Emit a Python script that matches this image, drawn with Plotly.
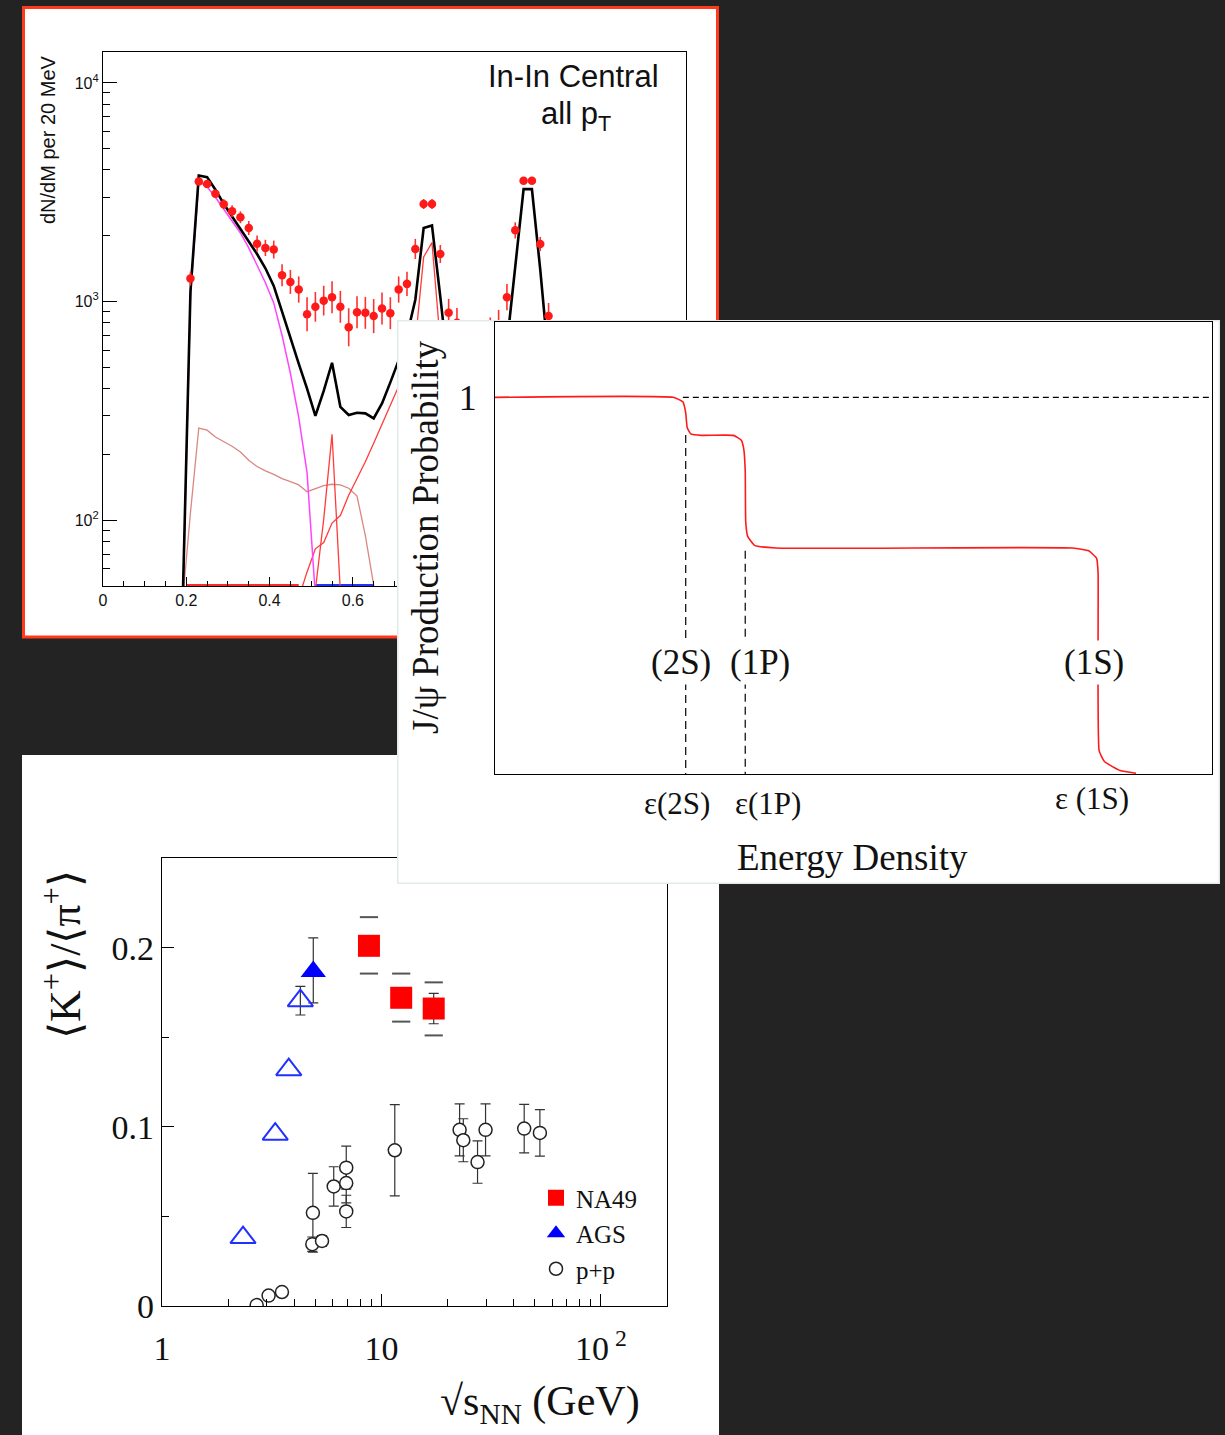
import numpy as np
import plotly.graph_objects as go

W, H = 1225, 1435
SANS = "Liberation Sans, Arial, sans-serif"
SERIF = "Liberation Serif, Times New Roman, serif"


def px(x):
    return x / W


def py(y):
    return 1 - y / H


# ---------------- Panel A : In-In central dimuon mass spectrum ----------------
mass_data = [0.21, 0.23, 0.25, 0.27, 0.29, 0.31, 0.33, 0.35, 0.37, 0.39, 0.41, 0.43, 0.45,
             0.47, 0.49, 0.51, 0.53, 0.55, 0.57, 0.59, 0.61, 0.63, 0.65, 0.67, 0.69, 0.71,
             0.73, 0.75, 0.77, 0.79, 0.81, 0.83, 0.85, 0.87, 0.89, 0.91, 0.93, 0.95, 0.97,
             0.99, 1.01, 1.03, 1.05, 1.07, 1.09, 1.11]
counts_data = [1274, 3540, 3450, 3110, 2790, 2590, 2430, 2170, 1840, 1760, 1730, 1320, 1230,
               1135, 875, 946, 1010, 1047, 946, 763, 894, 888, 858, 929, 885, 1135,
               1205, 1741, 2794, 2794, 1651, 888, 800, 700, 680, 700, 720, 780, 1047,
               2117, 3568, 3568, 1834, 858, 600, 520]
err_dex = [0.032, 0.014, 0.014, 0.018, 0.023, 0.027, 0.027, 0.032, 0.037, 0.037, 0.041, 0.050,
           0.055, 0.060, 0.078, 0.068, 0.068, 0.073, 0.073, 0.087, 0.073, 0.073, 0.078, 0.073,
           0.073, 0.060, 0.055, 0.046, 0.023, 0.023, 0.041, 0.064, 0.068, 0.07, 0.07, 0.07,
           0.07, 0.07, 0.060, 0.037, 0.014, 0.014, 0.032, 0.060, 0.07, 0.07]

mass_sum = [0.19, 0.21, 0.23, 0.25, 0.27, 0.29, 0.31, 0.33, 0.35, 0.37, 0.39, 0.41, 0.43, 0.45,
            0.47, 0.49, 0.51, 0.53, 0.55, 0.57, 0.59, 0.61, 0.63, 0.65, 0.67, 0.69, 0.71, 0.73,
            0.75, 0.77, 0.79, 0.81, 0.83, 0.85, 0.87, 0.89, 0.91, 0.93, 0.95, 0.97, 0.99, 1.01,
            1.03, 1.05, 1.07, 1.09, 1.11, 1.13]
cocktail_sum = [33, 1110, 3770, 3710, 3250, 2800, 2450, 2150, 1870, 1650, 1420, 1180, 900, 680,
                520, 400, 300, 390, 525, 330, 303, 310, 308, 292, 342, 427, 538, 700,
                1020, 2170, 2230, 1050, 480, 400, 380, 380, 390, 420, 480, 640, 1400, 3270,
                3270, 1400, 540, 300, 250, 220]

mass_eta_dalitz = [0.19, 0.21, 0.23, 0.25, 0.27, 0.29, 0.31, 0.33, 0.35, 0.37, 0.39, 0.41, 0.43,
                   0.45, 0.47, 0.49, 0.51]
eta_dalitz = [30, 1050, 3550, 3350, 3000, 2650, 2330, 2060, 1760, 1475, 1220, 986, 700,
              470, 295, 165, 45]

mass_omega_dalitz = [0.19, 0.21, 0.23, 0.25, 0.27, 0.29, 0.31, 0.33, 0.35, 0.37, 0.39, 0.41,
                     0.43, 0.45, 0.47, 0.49, 0.51, 0.53, 0.55, 0.57, 0.59, 0.61, 0.63, 0.65, 0.67]
omega_dalitz = [40, 108, 264, 258, 240, 228, 218, 205, 188, 176, 168, 162, 155, 150, 145, 135,
                140, 144, 146, 145, 140, 129, 85, 52, 30]

mass_eta_mumu = [0.51, 0.53, 0.55, 0.57]
eta_mumu = [48, 101, 247, 47]

mass_rho = [0.47, 0.49, 0.51, 0.53, 0.55, 0.57, 0.59, 0.61, 0.63, 0.65, 0.67, 0.69, 0.71, 0.73,
            0.75, 0.77, 0.79, 0.81, 0.83, 0.85]
rho = [44, 58, 74, 79, 97, 105, 130, 155, 185, 225, 275, 335, 410, 480, 560, 600, 580, 520,
       450, 400]

mass_omega_mumu = [0.73, 0.75, 0.77, 0.79, 0.81, 0.83]
omega_mumu = [80, 650, 1600, 1860, 650, 60]

mass_floor_red = [0.20, 0.47]
mass_floor_blue = [0.51, 0.65]
floor_level = [50.5, 50.5]

# ---------------- Panel B : J/psi sequential suppression ----------------
energy_density = [0.0, 0.2486, 0.262, 0.266, 0.268, 0.273, 0.288, 0.3326, 0.3436, 0.347, 0.349,
                  0.3497, 0.3524, 0.362, 0.3915, 0.8057, 0.828, 0.839, 0.8411, 0.8426, 0.850,
                  0.872, 0.894]
production_prob = [1.0, 1.0, 0.988, 0.959, 0.920, 0.903, 0.899, 0.899, 0.886, 0.862, 0.804,
                   0.669, 0.631, 0.607, 0.600, 0.600, 0.5925, 0.573, 0.535, 0.062, 0.033,
                   0.009, 0.002]
eps_2S, eps_1P, eps_1S = 0.266, 0.349, 0.843
level_2S, level_1P = 0.9, 0.593
unity_start = 0.262

# ---------------- Panel C : K+/pi+ excitation function ----------------
na49_s = [8.77, 12.3, 17.3]
na49_ratio = [0.201, 0.172, 0.166]
na49_stat = [0.004, 0.004, 0.0085]
na49_sys_hi = [0.217, 0.1855, 0.1806]
na49_sys_lo = [0.1855, 0.1587, 0.151]

ags_s = [4.89]
ags_ratio = [0.1867]
ags_err_hi = [0.0187]
ags_err_lo = [0.0175]

ags_open_s = [2.34, 3.28, 3.78, 4.27]
ags_open_ratio = [0.0382, 0.0959, 0.1319, 0.1704]
ags_open_err = [None, None, None, 0.008]

pp_s = [2.70, 3.06, 3.52, 4.84, 5.36, 4.87, 6.06, 6.91, 6.91, 6.91, 11.5, 22.7, 23.6, 27.4,
        29.8, 44.7, 52.7]
pp_ratio = [0.0005, 0.0058, 0.0078, 0.0345, 0.0363, 0.052, 0.0667, 0.0772, 0.0686, 0.0528,
            0.0869, 0.0983, 0.0925, 0.0803, 0.0983, 0.099, 0.0966]
pp_err = [None, None, None, 0.004, 0.003, 0.022, 0.011, 0.012, 0.011, 0.009, 0.0255, 0.0145,
          0.012, 0.0118, 0.0145, 0.0135, 0.013]

fig = go.Figure()

# ---- Panel A traces (xy) ----
cd = np.array(counts_data, dtype=float)
ed = np.array(err_dex)
err_plus = cd * (10 ** ed - 1)
err_minus = cd * (1 - 10 ** (-ed))

fig.add_trace(go.Scatter(x=mass_floor_red, y=floor_level, mode="lines",
                         line=dict(color="#ff2a2a", width=2), xaxis="x", yaxis="y", showlegend=False))
fig.add_trace(go.Scatter(x=mass_floor_blue, y=floor_level, mode="lines",
                         line=dict(color="#2233ff", width=2), xaxis="x", yaxis="y", showlegend=False))
fig.add_trace(go.Scatter(x=mass_omega_dalitz, y=omega_dalitz, mode="lines",
                         line=dict(color="#d98880", width=1.3), xaxis="x", yaxis="y", showlegend=False))
fig.add_trace(go.Scatter(x=mass_rho, y=rho, mode="lines",
                         line=dict(color="#ff3b3b", width=1.3), xaxis="x", yaxis="y", showlegend=False))
fig.add_trace(go.Scatter(x=mass_eta_mumu, y=eta_mumu, mode="lines",
                         line=dict(color="#ff3b3b", width=1.3), xaxis="x", yaxis="y", showlegend=False))
fig.add_trace(go.Scatter(x=mass_omega_mumu, y=omega_mumu, mode="lines",
                         line=dict(color="#ff3b3b", width=1.3), xaxis="x", yaxis="y", showlegend=False))
fig.add_trace(go.Scatter(x=mass_eta_dalitz, y=eta_dalitz, mode="lines",
                         line=dict(color="#ff44ff", width=1.5), xaxis="x", yaxis="y", showlegend=False))
fig.add_trace(go.Scatter(x=mass_sum, y=cocktail_sum, mode="lines",
                         line=dict(color="black", width=2.6), xaxis="x", yaxis="y", showlegend=False))
fig.add_trace(go.Scatter(x=mass_data, y=counts_data, mode="markers",
                         marker=dict(color="#ff1a1a", size=8.5, line=dict(width=0)),
                         error_y=dict(type="data", symmetric=False, array=err_plus, arrayminus=err_minus,
                                      color="#ff3030", thickness=1.6, width=0),
                         error_x=dict(type="constant", value=0.008, color="#ff1a1a", thickness=2.5, width=0),
                         xaxis="x", yaxis="y", showlegend=False))

# ---- Panel C traces (x2y2) ----
fig.add_trace(go.Scatter(x=na49_s, y=na49_ratio, mode="markers", name="NA49",
                         marker=dict(symbol="square", size=22, color="#ff0000", line=dict(width=0)),
                         error_y=dict(type="data", array=na49_stat, color="#333333", thickness=1.2, width=5),
                         xaxis="x2", yaxis="y2"))
fig.add_trace(go.Scatter(x=ags_s, y=ags_ratio, mode="markers", name="AGS",
                         marker=dict(symbol="triangle-up", size=22, color="#0000ff", line=dict(width=0)),
                         error_y=dict(type="data", symmetric=False, array=ags_err_hi, arrayminus=ags_err_lo,
                                      color="#333333", thickness=1.2, width=5),
                         xaxis="x2", yaxis="y2"))
fig.add_trace(go.Scatter(x=pp_s, y=pp_ratio, mode="markers", name="p+p",
                         marker=dict(symbol="circle", size=13, color="white",
                                     line=dict(color="#222222", width=1.5)),
                         error_y=dict(type="data", array=pp_err, color="#333333", thickness=1.2, width=5),
                         xaxis="x2", yaxis="y2"))
# error bars of the open AGS triangles (only where an error was measured)
ags_eb = [(s, r, e) for s, r, e in zip(ags_open_s, ags_open_ratio, ags_open_err) if e]
fig.add_trace(go.Scatter(x=[a[0] for a in ags_eb], y=[a[1] for a in ags_eb], mode="markers",
                         showlegend=False, marker=dict(size=1, opacity=0),
                         error_y=dict(type="data", array=[a[2] for a in ags_eb], color="#333333",
                                      thickness=1.2, width=5),
                         xaxis="x2", yaxis="y2", hoverinfo="skip"))
fig.add_trace(go.Scatter(x=ags_open_s, y=ags_open_ratio, mode="markers", showlegend=False,
                         marker=dict(symbol="triangle-up", size=22, color="rgba(255,255,255,0)",
                                     line=dict(color="#2030ff", width=2)),
                         xaxis="x2", yaxis="y2"))
fig.add_trace(go.Scatter(x=na49_s + na49_s, y=na49_sys_hi + na49_sys_lo, mode="markers",
                         showlegend=False,
                         marker=dict(symbol="line-ew", size=13, line=dict(color="#555555", width=2)),
                         xaxis="x2", yaxis="y2"))

# ---- Panel B cover (x3y3) ----
fig.add_trace(go.Scatter(x=[0, 1, 1, 0, 0], y=[0, 0, 1, 1, 0], mode="lines", fill="toself",
                         fillcolor="white", line=dict(color="#e4eaea", width=3),
                         xaxis="x3", yaxis="y3", showlegend=False, hoverinfo="skip"))

# ---- Panel B traces (x4y4) ----
fig.add_trace(go.Scatter(x=[unity_start, 1], y=[1, 1], mode="lines",
                         line=dict(color="black", width=1.2, dash="6px,4px"),
                         xaxis="x4", yaxis="y4", showlegend=False))
fig.add_trace(go.Scatter(x=[eps_2S, eps_2S], y=[level_2S, 0], mode="lines",
                         line=dict(color="black", width=1.2, dash="8px,5px"),
                         xaxis="x4", yaxis="y4", showlegend=False))
fig.add_trace(go.Scatter(x=[eps_1P, eps_1P], y=[level_1P, 0], mode="lines",
                         line=dict(color="black", width=1.2, dash="8px,5px"),
                         xaxis="x4", yaxis="y4", showlegend=False))
fig.add_trace(go.Scatter(x=energy_density, y=production_prob, mode="lines",
                         line=dict(color="#ff1a1a", width=1.6, shape="spline", smoothing=0.4),
                         xaxis="x4", yaxis="y4", showlegend=False))

# ---------------- layout ----------------
frame = dict(showline=True, mirror=True, linecolor="black", linewidth=1.2, showgrid=False,
             zeroline=False, automargin=False)

fig.update_layout(
    width=W, height=H, autosize=False,
    margin=dict(l=0, r=0, t=0, b=0, pad=0, autoexpand=False),
    paper_bgcolor="#232323", plot_bgcolor="white",
    showlegend=True,
    legend=dict(x=px(536), y=py(1175), xanchor="left", yanchor="top",
                font=dict(family=SERIF, size=25, color="#111111"),
                bgcolor="rgba(0,0,0,0)", borderwidth=0, itemwidth=30, tracegroupgap=0),
    xaxis=dict(domain=[px(103), px(686)], range=[0, 1.4], anchor="y",
               tickvals=[0, 0.2, 0.4, 0.6, 0.8, 1.0, 1.2, 1.4],
               ticktext=["0", "0.2", "0.4", "0.6", "0.8", "1", "1.2", "1.4"],
               ticks="inside", ticklen=9, tickcolor="black",
               minor=dict(ticks="inside", ticklen=5, dtick=0.05, tick0=0, tickcolor="black"),
               tickfont=dict(family=SANS, size=16, color="#111111"), **frame),
    yaxis=dict(domain=[py(586), py(52)], type="log", range=[np.log10(50), 4.1416], anchor="x",
               tickvals=[100, 1000, 10000],
               ticktext=["10<sup>2</sup>", "10<sup>3</sup>", "10<sup>4</sup>"],
               ticks="inside", ticklen=14, tickcolor="black",
               minor=dict(ticks="inside", ticklen=7, tickcolor="black",
                          tickvals=[60, 70, 80, 90, 200, 300, 400, 500, 600, 700, 800, 900,
                                    2000, 3000, 4000, 5000, 6000, 7000, 8000, 9000]),
               tickfont=dict(family=SANS, size=16, color="#111111"), **frame),
    xaxis2=dict(domain=[px(162), px(667)], type="log", range=[0, 2.301], anchor="y2",
                tickvals=[1, 10, 100], ticktext=["1", "10", "10<sup> 2</sup>"],
                ticks="inside", ticklen=12, tickcolor="black", ticklabelstandoff=12,
                minor=dict(ticks="inside", ticklen=7, tickcolor="black",
                           tickvals=[2, 3, 4, 5, 6, 7, 8, 9, 20, 30, 40, 50, 60, 70, 80, 90, 200]),
                tickfont=dict(family=SERIF, size=34, color="#111111"), **frame),
    yaxis2=dict(domain=[py(1306), py(858)], range=[0, 0.25], anchor="x2",
                tickvals=[0, 0.1, 0.2], ticktext=["0", "0.1", "0.2"],
                ticks="inside", ticklen=12, tickcolor="black",
                minor=dict(ticks="inside", ticklen=7, dtick=0.05, tick0=0, tickcolor="black"),
                tickfont=dict(family=SERIF, size=34, color="#111111"), **frame),
    xaxis3=dict(domain=[px(397), px(1220)], range=[0, 1], visible=False, anchor="y3",
                automargin=False),
    yaxis3=dict(domain=[py(884), py(320)], range=[0, 1], visible=False, anchor="x3",
                automargin=False),
    xaxis4=dict(domain=[px(495), px(1212)], range=[0, 1], anchor="y4",
                showticklabels=False, ticks="", **frame),
    yaxis4=dict(domain=[py(774), py(322)], range=[0, 1.2], anchor="x4",
                tickvals=[1], ticktext=["1"], ticks="", ticklabelstandoff=10,
                tickfont=dict(family=SERIF, size=36, color="#111111"), **frame),
)

# panel backgrounds
fig.add_shape(type="rect", xref="paper", yref="paper", x0=px(23.5), x1=px(717.5),
              y0=py(637), y1=py(7.5), fillcolor="white", line=dict(color="#ff3a1c", width=3),
              layer="below")
fig.add_shape(type="rect", xref="paper", yref="paper", x0=px(22), x1=px(719),
              y0=py(1440), y1=py(755), fillcolor="white", line=dict(width=0), layer="below")

C = dict(xanchor="center", yanchor="middle", showarrow=False)
ann = []
# Panel A texts
ann.append(dict(text="In-In Central", x=px(573), y=py(76), xref="paper", yref="paper",
                font=dict(family=SANS, size=31, color="#111111"), **C))
ann.append(dict(text="all p<sub>T</sub>", x=px(576), y=py(116), xref="paper", yref="paper",
                font=dict(family=SANS, size=31, color="#111111"), **C))
ann.append(dict(text="dN/dM per 20 MeV", x=px(48), y=py(140), xref="paper", yref="paper",
                textangle=-90, font=dict(family=SANS, size=20, color="#111111"), **C))
# Panel B texts
for txt, xx in [("(2S)", 0.259), ("(1P)", 0.370), ("(1S)", 0.835)]:
    ann.append(dict(text=txt, x=xx, y=0.297, xref="x4", yref="y4",
                    bgcolor="white", borderpad=2,
                    font=dict(family=SERIF, size=35, color="#111111"), **C))
for txt, xx, yy in [("ε(2S)", 677, 803), ("ε(1P)", 768, 803), ("ε (1S)", 1092, 799)]:
    ann.append(dict(text=txt, x=px(xx), y=py(yy), xref="paper", yref="paper",
                    font=dict(family=SERIF, size=31, color="#111111"), **C))
ann.append(dict(text="Energy Density", x=px(852), y=py(857), xref="paper", yref="paper",
                font=dict(family=SERIF, size=37, color="#111111"), **C))
ann.append(dict(text="J/ψ Production Probability", x=px(425), y=py(537), xref="paper",
                yref="paper", textangle=-90,
                font=dict(family=SERIF, size=37, color="#111111"), **C))
# Panel C texts
ann.append(dict(text="⟨K<sup>+</sup>⟩/⟨π<sup>+</sup>⟩", x=px(62), y=py(955), xref="paper",
                yref="paper", textangle=-90,
                font=dict(family=SERIF, size=44, color="#111111"), **C))
ann.append(dict(text="√s<sub>NN</sub> (GeV)", x=px(540), y=py(1404), xref="paper", yref="paper",
                font=dict(family=SERIF, size=42, color="#111111"), **C))
fig.update_layout(annotations=ann)

fig.write_html("out.html", config={"displayModeBar": False},
               post_script="document.body.style.margin='0px';"
                           "document.body.style.background='#232323';"
                           "document.documentElement.style.background='#232323';")
